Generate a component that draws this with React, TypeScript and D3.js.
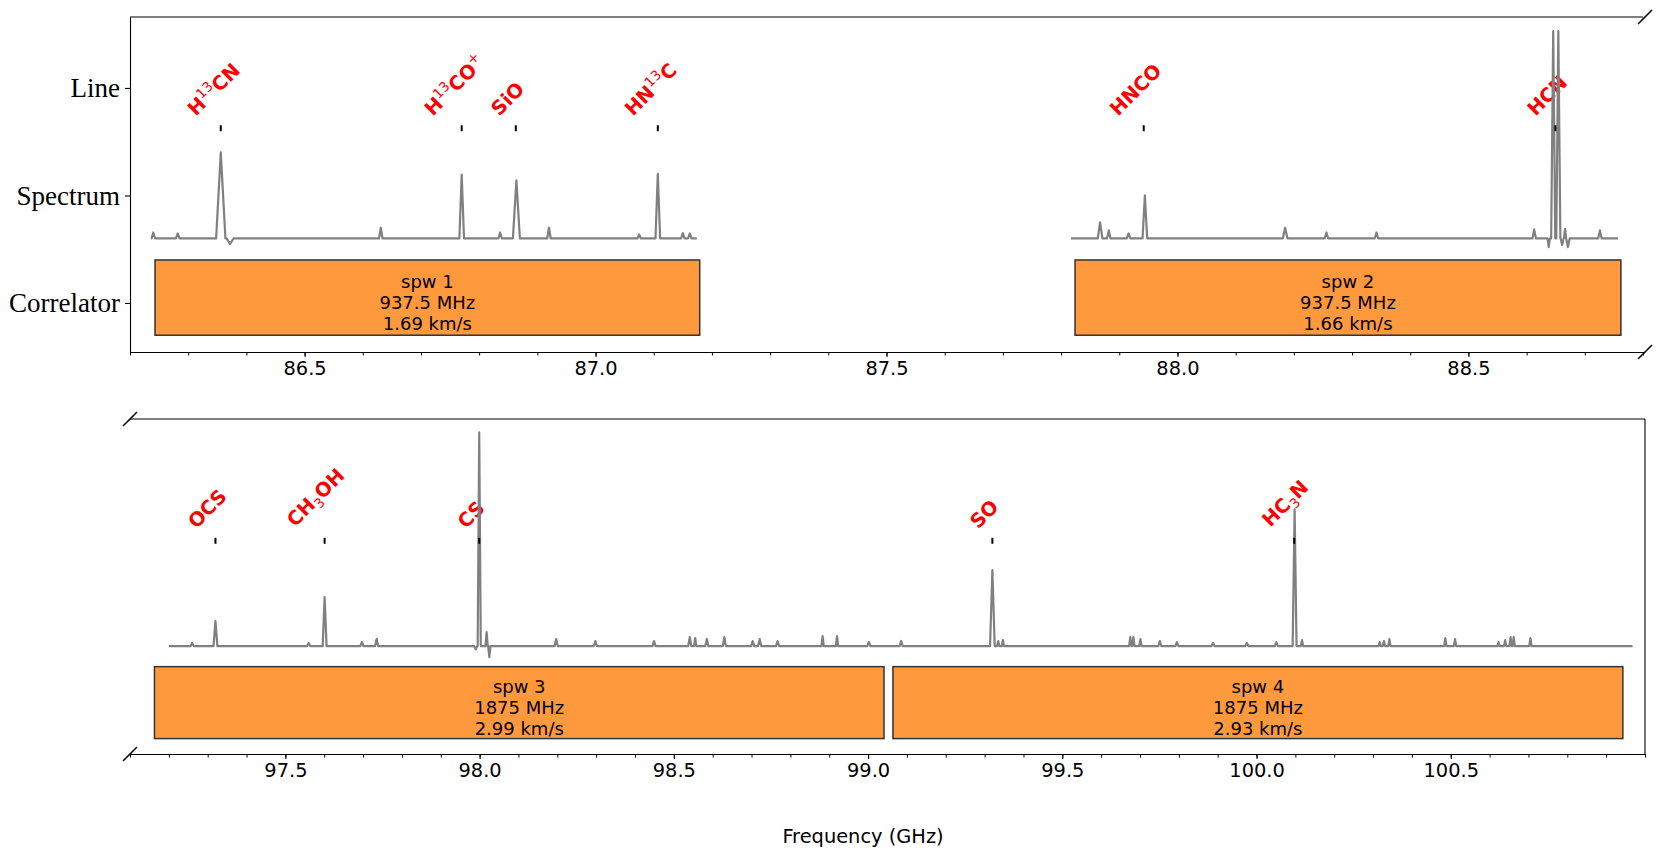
import { useEffect, useRef } from "react";
import * as d3 from "d3";

const WIDTH = 1661;
const HEIGHT = 857;

// rows on the y axis (categorical positions 0, 1, 2)
const rowNames = ["Correlator", "Spectrum", "Line"];

// upper panel: spw 1 and spw 2
const topDomain = [86.2, 88.8];
const topTicks = [86.5, 87.0, 87.5, 88.0, 88.5];
const topLineNames = ["H^13CN", "H^13CO^+", "SiO", "HN^13C", "HNCO", "HCN"];
const topLineFreqs = [86.356, 86.77, 86.863, 87.107, 87.942, 88.6495];

// lower panel: spw 3 and spw 4
const bottomDomain = [97.1, 101.0];
const bottomTicks = [97.5, 98.0, 98.5, 99.0, 99.5, 100.0, 100.5];
const bottomLineNames = ["OCS", "CH_3OH", "CS", "SO", "HC_3N"];
const bottomLineFreqs = [97.32, 97.601, 97.999, 99.32, 100.097];

// correlator windows
const spwNames = ["spw 1", "spw 2", "spw 3", "spw 4"];
const spwLow = [86.243, 87.824, 97.163, 99.064];
const spwHigh = [87.179, 88.762, 99.041, 100.943];
const spwBandwidth = ["937.5 MHz", "937.5 MHz", "1875 MHz", "1875 MHz"];
const spwResolution = ["1.69 km/s", "1.66 km/s", "2.99 km/s", "2.93 km/s"];
const spwPanel = [0, 0, 1, 1];

// spectra: channel range and peaks [freq GHz, height above baseline, half width GHz]
const spw1Range = [86.236, 87.174];
const spw1Peaks = [
  [86.24, 0.056, 0.003],
  [86.282, 0.047, 0.003],
  [86.356, 0.8, 0.008],
  [86.372, -0.05, 0.006],
  [86.631, 0.1, 0.003],
  [86.77, 0.595, 0.004],
  [86.836, 0.056, 0.003],
  [86.864, 0.54, 0.006],
  [86.92, 0.1, 0.003],
  [87.075, 0.037, 0.003],
  [87.107, 0.6, 0.004],
  [87.15, 0.05, 0.003],
  [87.162, 0.047, 0.003],
];

const spw2Range = [87.817, 88.757];
const spw2Peaks = [
  [87.867, 0.15, 0.004],
  [87.882, 0.075, 0.003],
  [87.916, 0.047, 0.003],
  [87.944, 0.4, 0.004],
  [88.185, 0.1, 0.004],
  [88.256, 0.056, 0.003],
  [88.342, 0.056, 0.003],
  [88.613, 0.084, 0.003],
  [88.638, -0.08, 0.002],
  [88.6457, 1.93, 0.0035],
  [88.6545, 1.93, 0.0035],
  [88.661, -0.06, 0.0025],
  [88.666, 0.09, 0.002],
  [88.671, -0.08, 0.003],
  [88.726, 0.075, 0.003],
];

const spw34Range = [97.2, 100.968];
const spw34Peaks = [
  [97.26, 0.03, 0.004],
  [97.32, 0.243, 0.005],
  [97.56, 0.03, 0.004],
  [97.601, 0.476, 0.005],
  [97.697, 0.04, 0.004],
  [97.735, 0.07, 0.004],
  [97.99, -0.03, 0.004],
  [97.999, 2.08, 0.004],
  [98.018, 0.136, 0.003],
  [98.025, -0.107, 0.003],
  [98.197, 0.068, 0.004],
  [98.298, 0.049, 0.004],
  [98.449, 0.049, 0.004],
  [98.541, 0.087, 0.004],
  [98.555, 0.078, 0.003],
  [98.585, 0.068, 0.004],
  [98.63, 0.087, 0.004],
  [98.703, 0.049, 0.004],
  [98.721, 0.068, 0.004],
  [98.767, 0.049, 0.004],
  [98.883, 0.097, 0.003],
  [98.92, 0.097, 0.003],
  [99.002, 0.039, 0.004],
  [99.085, 0.05, 0.004],
  [99.32, 0.74, 0.006],
  [99.335, 0.049, 0.003],
  [99.347, 0.058, 0.003],
  [99.675, 0.087, 0.003],
  [99.683, 0.087, 0.003],
  [99.701, 0.068, 0.003],
  [99.751, 0.049, 0.004],
  [99.795, 0.039, 0.004],
  [99.888, 0.03, 0.004],
  [99.975, 0.03, 0.004],
  [100.051, 0.039, 0.004],
  [100.098, 1.33, 0.005],
  [100.117, 0.058, 0.003],
  [100.317, 0.039, 0.003],
  [100.328, 0.049, 0.003],
  [100.342, 0.068, 0.003],
  [100.486, 0.078, 0.003],
  [100.511, 0.068, 0.003],
  [100.623, 0.039, 0.003],
  [100.64, 0.058, 0.003],
  [100.654, 0.087, 0.003],
  [100.662, 0.087, 0.003],
  [100.705, 0.078, 0.003],
];

// levels in row units
const BOX_LO = -0.3;
const BOX_HI = 0.4;
const BASE = 0.6;
const MARK = 1.625;
const LABEL = 1.7;

const FS = 19.4;
const ORANGE = "#ff993e";

type Panel = {
  left: number;
  right: number;
  top: number;
  bottom: number;
  xDomain: number[];
  yDomain: number[];
  ticks: number[];
  names: string[];
  freqs: number[];
  spectra: { range: number[]; peaks: number[][] }[];
  yLabels: boolean;
  spines: { top: boolean; left: boolean; right: boolean };
  breaks: [number, number][];
};

const panels: Panel[] = [
  {
    left: 130,
    right: 1643,
    top: 17,
    bottom: 352,
    xDomain: topDomain,
    yDomain: [-0.456, 2.66],
    ticks: topTicks,
    names: topLineNames,
    freqs: topLineFreqs,
    spectra: [
      { range: spw1Range, peaks: spw1Peaks },
      { range: spw2Range, peaks: spw2Peaks },
    ],
    yLabels: true,
    spines: { top: true, left: true, right: false },
    breaks: [
      [1645, 17],
      [1645, 352],
    ],
  },
  {
    left: 130,
    right: 1645,
    top: 419,
    bottom: 754,
    xDomain: bottomDomain,
    yDomain: [-0.45, 2.81],
    ticks: bottomTicks,
    names: bottomLineNames,
    freqs: bottomLineFreqs,
    spectra: [{ range: spw34Range, peaks: spw34Peaks }],
    yLabels: false,
    spines: { top: true, left: false, right: true },
    breaks: [
      [130, 419],
      [130, 754],
    ],
  },
];

function spectrumPoints(range: number[], peaks: number[][]) {
  const pts: [number, number][] = [[range[0], 0]];
  peaks.forEach(([f, h, hw]) => {
    pts.push([f - hw, 0], [f, h], [f + hw, 0]);
  });
  pts.push([range[1], 0]);
  return pts;
}

function addFormula(
  text: d3.Selection<SVGTextElement, unknown, null, undefined>,
  str: string,
  fs: number
) {
  const parts = str.split(/([\^_](?:\d+|\+))/).filter(Boolean);
  let shift = 0;
  parts.forEach((part) => {
    if (part[0] === "^" || part[0] === "_") {
      const target = part[0] === "^" ? -0.42 * fs : 0.24 * fs;
      text
        .append("tspan")
        .attr("dy", target - shift)
        .attr("font-size", fs * 0.7)
        .attr("font-weight", "normal")
        .text(part.slice(1));
      shift = target;
    } else {
      text.append("tspan").attr("dy", -shift).text(part);
      shift = 0;
    }
  });
}

export default function App() {
  const svgRef = useRef<SVGSVGElement>(null);

  useEffect(() => {
    if (!svgRef.current) return;
    const svg = d3.select(svgRef.current);
    svg.selectAll("*").remove();

    panels.forEach((p, pi) => {
      const x = d3.scaleLinear().domain(p.xDomain).range([p.left, p.right]);
      const y = d3.scaleLinear().domain(p.yDomain).range([p.bottom, p.top]);
      const g = svg.append("g");

      // correlator windows
      spwNames.forEach((name, i) => {
        if (spwPanel[i] !== pi) return;
        const x0 = x(spwLow[i]);
        const x1 = x(spwHigh[i]);
        g.append("rect")
          .attr("x", x0)
          .attr("y", y(BOX_HI))
          .attr("width", x1 - x0)
          .attr("height", y(BOX_LO) - y(BOX_HI))
          .attr("fill", ORANGE)
          .attr("stroke", "#333")
          .attr("stroke-width", 1.5);
        const t = g
          .append("text")
          .attr("text-anchor", "middle")
          .attr("font-family", "DejaVu Sans")
          .attr("font-size", 18)
          .attr("fill", "#000");
        [name, spwBandwidth[i], spwResolution[i]].forEach((s, k) => {
          t.append("tspan")
            .attr("x", (x0 + x1) / 2)
            .attr("y", y(0) + (k - 1) * 21)
            .attr("dy", "0.35em")
            .text(s);
        });
      });

      // line labels
      const c = Math.SQRT1_2;
      p.names.forEach((name, i) => {
        const t = g
          .append("text")
          .attr("font-family", "DejaVu Sans")
          .attr("font-weight", "bold")
          .attr("font-size", FS)
          .attr("fill", "#ff0000");
        addFormula(t, name, FS);
        const bb = (t.node() as SVGTextElement).getBBox();
        const corners = [
          [bb.x, bb.y],
          [bb.x + bb.width, bb.y],
          [bb.x, bb.y + bb.height],
          [bb.x + bb.width, bb.y + bb.height],
        ].map(([a, b]) => [c * (a + b), c * (b - a)]);
        const minX = d3.min(corners, (d) => d[0])!;
        const maxX = d3.max(corners, (d) => d[0])!;
        const maxY = d3.max(corners, (d) => d[1])!;
        const tx = x(p.freqs[i]) - 8 - (minX + maxX) / 2;
        const ty = y(LABEL) - maxY;
        t.attr("transform", `translate(${tx},${ty}) rotate(-45)`);
      });

      // spectrum
      const line = d3
        .line<[number, number]>()
        .x((d) => x(d[0]))
        .y((d) => y(BASE + d[1]));
      p.spectra.forEach((s) => {
        g.append("path")
          .attr("d", line(spectrumPoints(s.range, s.peaks)))
          .attr("fill", "none")
          .attr("stroke", "#808080")
          .attr("stroke-width", 2.2)
          .attr("stroke-linejoin", "round");
      });

      // line markers
      p.freqs.forEach((f) => {
        g.append("line")
          .attr("x1", x(f))
          .attr("x2", x(f))
          .attr("y1", y(MARK) - 3)
          .attr("y2", y(MARK) + 3)
          .attr("stroke", "#000")
          .attr("stroke-width", 2);
      });

      // x axis
      const minor = d3
        .range(Math.round(p.xDomain[0] * 10), Math.round(p.xDomain[1] * 10) + 1)
        .map((v) => v / 10);
      const minorAxis = g
        .append("g")
        .attr("transform", `translate(0,${p.bottom})`)
        .call(
          d3
            .axisBottom(x)
            .tickValues(minor)
            .tickFormat(() => "")
            .tickSize(3.5)
            .tickSizeOuter(0)
        );
      minorAxis.select(".domain").remove();
      minorAxis.selectAll("line").attr("stroke-width", 1);

      const xAxis = g
        .append("g")
        .attr("transform", `translate(0,${p.bottom})`)
        .call(
          d3
            .axisBottom(x)
            .tickValues(p.ticks)
            .tickFormat(d3.format(".1f"))
            .tickSize(5)
            .tickPadding(4)
            .tickSizeOuter(0)
        );
      xAxis
        .attr("font-family", "DejaVu Sans")
        .attr("font-size", FS);
      xAxis.selectAll("line").attr("stroke-width", 1.1);
      xAxis.select(".domain").attr("stroke-width", 1.1);
      xAxis.selectAll("text").attr("fill", "#000");

      // y axis
      if (p.yLabels) {
        const yAxis = g
          .append("g")
          .attr("transform", `translate(${p.left},0)`)
          .call(
            d3
              .axisLeft(y)
              .tickValues([0, 1, 2])
              .tickFormat((d) => rowNames[d as number])
              .tickSize(5)
              .tickPadding(5)
              .tickSizeOuter(0)
          );
        yAxis
          .attr("font-family", "Liberation Serif")
          .attr("font-size", 27);
        yAxis.selectAll("line").attr("stroke-width", 1.1);
        yAxis.select(".domain").attr("stroke-width", 1.1);
        yAxis.selectAll("text").attr("fill", "#000");
      }

      // other spines
      if (p.spines.top) {
        g.append("line")
          .attr("x1", p.left)
          .attr("x2", p.right)
          .attr("y1", p.top)
          .attr("y2", p.top)
          .attr("stroke", "#000")
          .attr("stroke-width", 1.1);
      }
      if (p.spines.right) {
        g.append("line")
          .attr("x1", p.right)
          .attr("x2", p.right)
          .attr("y1", p.top)
          .attr("y2", p.bottom)
          .attr("stroke", "#000")
          .attr("stroke-width", 1.1);
      }

      // axis break marks
      p.breaks.forEach(([bx, by]) => {
        g.append("line")
          .attr("x1", bx - 7)
          .attr("y1", by + 7)
          .attr("x2", bx + 7)
          .attr("y2", by - 7)
          .attr("stroke", "#000")
          .attr("stroke-width", 1.6);
      });
    });

    svg
      .append("text")
      .attr("x", 863)
      .attr("y", 836)
      .attr("dy", "0.35em")
      .attr("text-anchor", "middle")
      .attr("font-family", "DejaVu Sans")
      .attr("font-size", FS)
      .attr("fill", "#000")
      .text("Frequency (GHz)");
  }, []);

  return (
    <div style={{ position: "absolute", left: 0, top: 0 }}>
      <svg
        ref={svgRef}
        width={WIDTH}
        height={HEIGHT}
        style={{ display: "block", background: "#fff" }}
      />
    </div>
  );
}
